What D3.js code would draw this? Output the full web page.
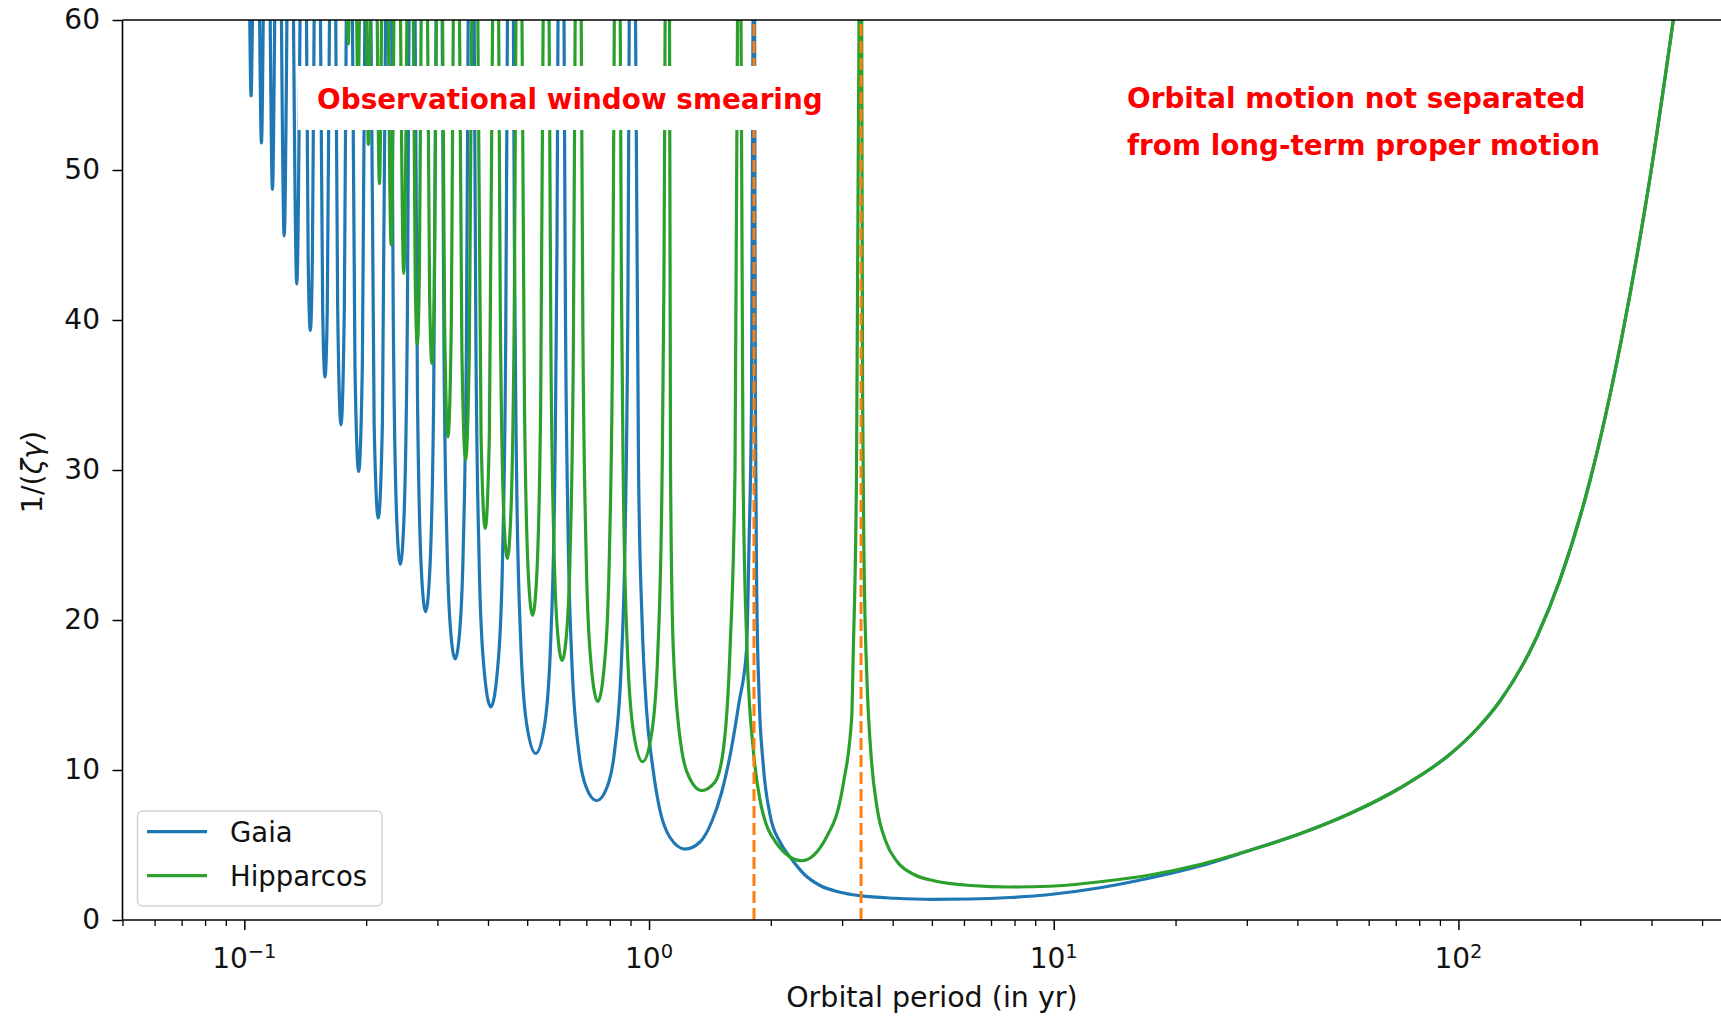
<!DOCTYPE html>
<html>
<head>
<meta charset="utf-8">
<script src="https://cdn.jsdelivr.net/npm/d3@7"></script>
<style>
  html, body { margin: 0; padding: 0; background: #fff; }
  svg { display: block; }
  text { font-family: "DejaVu Sans", sans-serif; fill: #111; }
</style>
</head>
<body>
<svg id="chart" width="1721" height="1017"></svg>
<script>
// 1/(zeta*gamma) against orbital period (yr). A null value marks a resonance
// (period = window length / k) where the curve runs off the top of the axes.
const gaia = [
  [0.10314,60],[0.10391,54.95],[0.10470,60],[0.10690,null],
  [0.10909,60],[0.11023,51.8],[0.11135,60],[0.11358,null],
  [0.11586,60],[0.11733,48.7],[0.11886,60],[0.12115,null],
  [0.12352,60],[0.12544,45.6],[0.12742,60],[0.12981,null],
  [0.13229,60],[0.13477,42.4],[0.13728,60],[0.13979,null],
  [0.14242,60],[0.14380,44.1],[0.14556,39.3],[0.14729,44.1],[0.14877,60],[0.15144,null],
  [0.15421,60],[0.15618,40.6],[0.15823,36.2],[0.16030,40.6],[0.16233,60],[0.16521,null],
  [0.16821,60],[0.17007,40.8],[0.17330,33.0],[0.17665,40.8],[0.17861,60],[0.18173,null],
  [0.18501,60],[0.18764,37.0],[0.19164,29.9],[0.19573,37.0],[0.19851,60],[0.20192,null],
  [0.20555,60],[0.20928,33.1],[0.21426,26.8],[0.21937,33.1],[0.22334,60],[0.22716,null],
  [0.23120,60],[0.23336,40.3],[0.23809,26.6],[0.24292,23.7],[0.24785,26.6],[0.25287,40.3],[0.25524,60],[0.25961,null],
  [0.26421,60],[0.26780,35.0],[0.27406,23.1],[0.28051,20.55],[0.28702,23.1],[0.29373,35.0],[0.29781,60],[0.30288,null],
  [0.30819,60],[0.31136,38.3],[0.31710,24.6],[0.32294,19.5],[0.33189,17.4],[0.34109,19.5],[0.34738,24.6],[0.35377,38.3],[0.35741,60],[0.36346,null],
  [0.36980,60],[0.37344,38.6],[0.38017,24.2],[0.38875,17.6],[0.40649,14.2],[0.42504,17.6],[0.43463,24.2],[0.44244,38.6],[0.44682,60],[0.45433,null],
  [0.46225,60],[0.46498,44.6],[0.47043,30.2],[0.48139,18.9],[0.49824,13.1],[0.52481,11.1],[0.55270,13.1],[0.57213,18.9],[0.58545,30.2],[0.59223,44.6],[0.59576,60],[0.60577,null],
  [0.61652,60],[0.62095,42.4],[0.63112,25.7],[0.64405,17.5],[0.67078,11.2],[0.69843,8.9],[0.74225,7.95],[0.78870,8.9],[0.82140,11.2],[0.85543,17.5],[0.87295,25.7],[0.88721,42.4],[0.89361,60],[0.90865,null],
  [0.9261,60],[0.9421,30],[0.9611,20],[0.9859,14],[1.0201,10.3],[1.0644,7.3],[1.1269,5.5],[1.2271,4.73],[1.3365,5.2],[1.4310,6.6],[1.5149,8.6],[1.5945,11.3],[1.6687,14.5],[1.7415,18],[1.7662,25],[1.7917,35],[1.8069,60],[1.8173,null],
  [1.8236,60],[1.8309,35],[1.8453,22],[1.870,15],[1.913,10.5],[1.991,7.0],[2.107,5.2],[2.231,4.2],[2.429,3.0],[2.646,2.3],[2.965,1.85],[3.322,1.62],
  [4.053,1.45],[5.009,1.38],[6.211,1.40],[7.799,1.50],[9.792,1.70],[13.01,2.15],[17.29,2.8],[22.99,3.6],
  [30.55,4.65],[40.60,5.75],[53.97,7.1],[71.72,8.8],[95.31,11.05],[109.9,12.6],[126.7,14.6],[156.4,18.9],[178.3,22.7],[211.4,29.3],[253.6,38.9],[297.5,49.5],[339.6,60]
];

const hipparcos = [
  [0.17992,60],[0.18063,58.4],[0.18134,60],[0.18561,null],
  [0.18954,60],[0.19101,55.0],[0.19243,60],[0.19653,null],
  [0.20053,60],[0.20258,51.7],[0.20470,60],[0.20881,null],
  [0.21302,60],[0.21567,49.1],[0.21835,60],[0.22273,null],
  [0.22691,60],[0.23056,45.0],[0.23420,60],[0.23864,null],
  [0.24320,60],[0.24768,43.1],[0.25223,60],[0.25700,null],
  [0.26159,60],[0.26433,43.1],[0.26748,38.4],[0.27074,43.1],[0.27351,60],[0.27842,null],
  [0.28360,60],[0.28698,41.6],[0.29079,37.1],[0.29456,41.6],[0.29817,60],[0.30373,null],
  [0.30900,60],[0.31253,39.8],[0.31856,32.2],[0.32470,39.8],[0.32839,60],[0.33410,null],
  [0.34019,60],[0.34481,37.9],[0.35217,30.7],[0.35968,37.9],[0.36464,60],[0.37122,null],
  [0.37754,60],[0.38459,32.3],[0.39375,26.1],[0.40312,32.3],[0.41064,60],[0.41763,null],
  [0.42504,60],[0.42894,41.0],[0.43762,27.0],[0.44648,24.1],[0.45551,27.0],[0.46467,41.0],[0.46900,60],[0.47729,null],
  [0.48541,60],[0.49224,34.5],[0.50375,22.8],[0.51552,20.3],[0.52757,22.8],[0.53990,34.5],[0.54745,60],[0.55683,null],
  [0.56632,60],[0.57223,38.1],[0.58273,24.5],[0.59348,19.4],[0.60991,17.3],[0.62679,19.4],[0.63837,24.5],[0.65014,38.1],[0.65684,60],[0.66820,null],
  [0.67991,60],[0.68630,39.5],[0.69865,24.8],[0.71442,18.0],[0.74703,14.55],[0.78113,18.0],[0.79875,24.8],[0.81315,39.5],[0.82077,60],[0.83525,null],
  [0.84886,60],[0.85467,42.4],[0.86446,28.7],[0.88460,17.9],[0.91579,12.5],[0.96445,10.55],[1.0158,12.5],[1.0515,17.9],[1.0760,28.7],[1.0884,42.4],[1.0959,60],[1.11367,null],
  [1.1237,60],[1.1301,30],[1.1483,18],[1.2044,11.33],[1.2627,9.4],[1.3481,8.63],[1.4557,9.2],[1.5261,11.33],[1.5854,18],[1.6311,30],[1.6544,60],[1.6705,null],
  [1.6878,60],[1.7071,30],[1.7464,18],[1.8101,11.33],[1.8804,8.0],[2.0673,5.1],[2.3840,3.95],[2.7485,5.55],[3.0207,9.1],[3.1686,13.55],[3.1974,18],[3.2563,30],[3.3029,60],[3.3410,null],
  [3.3537,60],[3.3706,35],[3.3983,24],[3.4561,16],[3.5364,11],[3.6590,7.5],[3.8511,5.2],[4.1001,3.9],[4.5417,3.0],[5.0892,2.6],
  [6.2462,2.3],[7.799,2.2],[9.792,2.25],[13.01,2.55],[17.29,3.0],[22.99,3.7],
  [30.55,4.65],[40.60,5.75],[53.97,7.1],[71.72,8.8],[95.31,11.05],[109.9,12.6],[126.7,14.6],[156.4,18.9],[178.3,22.7],[211.4,29.3],[253.6,38.9],[297.5,49.5],[339.6,60]
];

// Observation window lengths (yr): Gaia, Hipparcos
const windowLengths = [1.817, 3.341];

const seriesNames  = ["Gaia", "Hipparcos"];
const seriesColors = ["#1f77b4", "#2ca02c"];
const yTicks       = [0, 10, 20, 30, 40, 50, 60];
const xMajorTicks  = [0.1, 1, 10, 100];
const xMajorLabels = [["10", "\u22121"], ["10", "0"], ["10", "1"], ["10", "2"]];
const xMinorTicks  = [0.05, 0.06, 0.07, 0.08, 0.09,
                      0.2, 0.3, 0.4, 0.5, 0.6, 0.7, 0.8, 0.9,
                      2, 3, 4, 5, 6, 7, 8, 9,
                      20, 30, 40, 50, 60, 70, 80, 90,
                      200, 300, 400, 500];
const xLabel = "Orbital period (in yr)";
const notes = [
  { lines: ["Observational window smearing"] },
  { lines: ["Orbital motion not separated", "from long-term proper motion"] }
];

const W = 1721, H = 1017;
const plot = { left: 122.5, right: 1741.3, top: 20, bottom: 920 };
const tickFont = 28;

const svg = d3.select("#chart");
svg.append("rect").attr("width", W).attr("height", H).attr("fill", "#fff");

const x = d3.scaleLog().domain([0.05, 500]).range([plot.left, plot.right]);
const y = d3.scaleLinear().domain([0, 60]).range([plot.bottom, plot.top]);

svg.append("defs").append("clipPath").attr("id", "plotClip")
  .append("rect")
  .attr("x", plot.left).attr("y", plot.top - 2)
  .attr("width", plot.right - plot.left).attr("height", plot.bottom - plot.top + 2);

// curves
const line = d3.line()
  .defined(d => d[1] !== null)
  .x(d => x(d[0]))
  .y(d => y(d[1]))
  .curve(d3.curveMonotoneX);

const curves = svg.append("g").attr("clip-path", "url(#plotClip)");
[gaia, hipparcos].forEach((data, i) => {
  curves.append("path")
    .datum(data)
    .attr("d", line)
    .attr("fill", "none")
    .attr("stroke", seriesColors[i])
    .attr("stroke-width", 3.2)
    .attr("stroke-linejoin", "round");
});

// window-length markers
curves.selectAll("line.window")
  .data(windowLengths)
  .join("line")
  .attr("class", "window")
  .attr("x1", d => x(d)).attr("x2", d => x(d))
  .attr("y1", y(0)).attr("y2", y(60))
  .attr("stroke", "#ff7f0e")
  .attr("stroke-width", 3)
  .attr("stroke-dasharray", "12,5");

// spines
const spine = (x1, y1, x2, y2) => svg.append("line")
  .attr("x1", x1).attr("y1", y1).attr("x2", x2).attr("y2", y2)
  .attr("stroke", "#000").attr("stroke-width", 1.6);
spine(plot.left, plot.top, W, plot.top);
spine(plot.left, plot.bottom, W, plot.bottom);
spine(plot.left, plot.top, plot.left, plot.bottom);

// y axis
const yAxis = svg.append("g")
  .attr("transform", `translate(${plot.left},0)`)
  .call(d3.axisLeft(y).tickValues(yTicks).tickSize(10).tickPadding(12.5));
yAxis.select(".domain").remove();
yAxis.selectAll(".tick line").attr("stroke", "#000").attr("stroke-width", 1.5);
yAxis.selectAll(".tick text")
  .attr("font-family", "DejaVu Sans").attr("font-size", tickFont).attr("fill", "#111");

// x axis: minor ticks, then major ticks with power-of-ten labels
const xMinor = svg.append("g")
  .attr("transform", `translate(0,${plot.bottom})`)
  .call(d3.axisBottom(x).tickValues(xMinorTicks).tickSize(6).tickFormat(""));
xMinor.select(".domain").remove();
xMinor.selectAll(".tick line").attr("stroke", "#000").attr("stroke-width", 1.3);

const xMajor = svg.append("g")
  .attr("transform", `translate(0,${plot.bottom})`)
  .call(d3.axisBottom(x).tickValues(xMajorTicks).tickSize(10).tickFormat(""));
xMajor.select(".domain").remove();
xMajor.selectAll(".tick line").attr("stroke", "#000").attr("stroke-width", 1.5);

const xLabels = svg.append("g").selectAll("text")
  .data(xMajorTicks)
  .join("text")
  .attr("x", d => x(d))
  .attr("y", 968)
  .attr("text-anchor", "middle")
  .attr("font-size", tickFont);
xLabels.append("tspan").text((d, i) => xMajorLabels[i][0]);
xLabels.append("tspan").attr("dy", -10).attr("font-size", 19.5).text((d, i) => xMajorLabels[i][1]);

// axis titles
svg.append("text")
  .attr("x", (plot.left + plot.right) / 2).attr("y", 1007)
  .attr("text-anchor", "middle").attr("font-size", 28.5)
  .text(xLabel);

const yTitle = svg.append("text")
  .attr("transform", `translate(42,${(plot.top + plot.bottom) / 2 + 2}) rotate(-90)`)
  .attr("text-anchor", "middle").attr("font-size", 28.5);
yTitle.append("tspan").text("1/(");
yTitle.append("tspan").attr("font-style", "italic").text("\u03b6\u03b3");
yTitle.append("tspan").text(")");

// legend
const legend = svg.append("g");
legend.append("rect")
  .attr("x", 137.5).attr("y", 811).attr("width", 244.5).attr("height", 95)
  .attr("rx", 5).attr("fill", "#fff").attr("fill-opacity", 0.8)
  .attr("stroke", "#d4d4d4").attr("stroke-width", 1.5);
seriesNames.forEach((name, i) => {
  const ly = 831.7 + i * 44;
  legend.append("line")
    .attr("x1", 147).attr("x2", 207).attr("y1", ly).attr("y2", ly)
    .attr("stroke", seriesColors[i]).attr("stroke-width", 3.2);
  legend.append("text")
    .attr("x", 230).attr("y", ly + 10.3)
    .attr("font-size", 27.5).text(name);
});

// red annotations
const noteFont = "Lato, 'Open Sans', sans-serif";
const noteWeight = 700;
function fitSize(str, target) {
  const probe = svg.append("text").attr("font-family", noteFont)
    .attr("font-weight", noteWeight).attr("font-size", 100).text(str);
  const w = probe.node().getComputedTextLength();
  probe.remove();
  return 100 * target / w;
}

// boxed label over the resonance region
svg.append("rect").attr("x", 297.7).attr("y", 66).attr("width", 557.3).attr("height", 64).attr("fill", "#fff");
const s1 = fitSize(notes[0].lines[0], 506);
svg.append("text")
  .attr("x", 317).attr("y", 109)
  .attr("font-family", noteFont).attr("font-weight", noteWeight)
  .attr("font-size", s1).style("fill", "#ff0000")
  .text(notes[0].lines[0]);

// two-line label over the long-period side
const s2 = (fitSize(notes[1].lines[0], 457) + fitSize(notes[1].lines[1], 475)) / 2;
notes[1].lines.forEach((t, i) => {
  svg.append("text")
    .attr("x", 1127).attr("y", 108 + i * 47)
    .attr("font-family", noteFont).attr("font-weight", noteWeight)
    .attr("font-size", s2).style("fill", "#ff0000")
    .text(t);
});
</script>
</body>
</html>
